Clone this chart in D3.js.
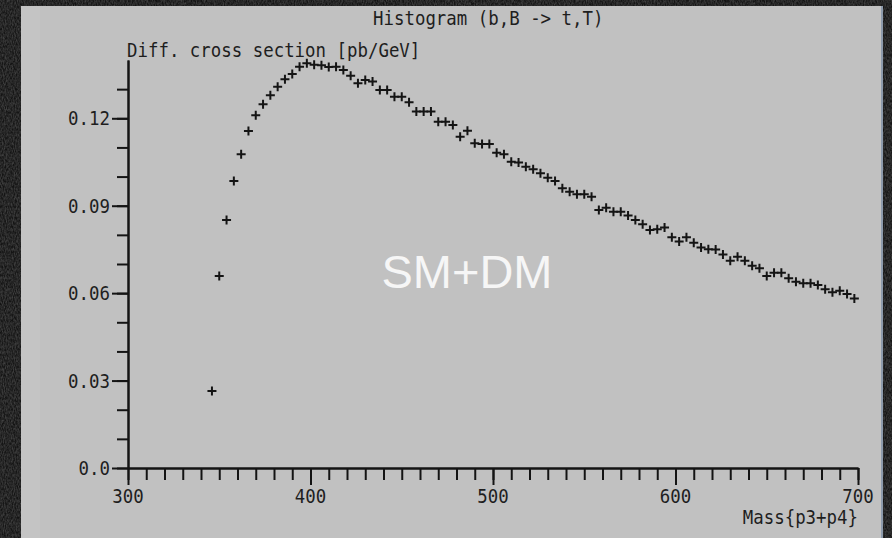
<!DOCTYPE html>
<html>
<head>
<meta charset="utf-8">
<script src="https://cdn.jsdelivr.net/npm/d3@7"></script>
<style>
  html, body { margin: 0; padding: 0; background: #141414; }
  svg { display: block; }
</style>
</head>
<body>
<div class="svg-div"></div>
<script>
// histogram bin centres (GeV) and values (pb/GeV)
var massBins = d3.range(346, 699, 4);
var crossSection = [
	0.0264, 0.0659, 0.0851, 0.0985, 0.1077, 0.1156, 0.1210, 0.1248, 0.1279, 0.1308,
	0.1334, 0.1352, 0.1377, 0.1389, 0.1384, 0.1382, 0.1376, 0.1377, 0.1366, 0.1346,
	0.1320, 0.1331, 0.1326, 0.1297, 0.1297, 0.1274, 0.1274, 0.1255, 0.1223, 0.1223,
	0.1223, 0.1188, 0.1188, 0.1177, 0.1137, 0.1157, 0.1114, 0.1112, 0.1112, 0.1082,
	0.1077, 0.1051, 0.1048, 0.1034, 0.1025, 0.1011, 0.0996, 0.0985, 0.0960, 0.0948,
	0.0939, 0.0939, 0.0931, 0.0885, 0.0893, 0.0879, 0.0879, 0.0866, 0.0851, 0.0836,
	0.0817, 0.0819, 0.0825, 0.0792, 0.0777, 0.0792, 0.0773, 0.0757, 0.0751, 0.0750,
	0.0733, 0.0711, 0.0725, 0.0711, 0.0694, 0.0685, 0.0659, 0.0670, 0.0670, 0.0651,
	0.0639, 0.0634, 0.0634, 0.0628, 0.0613, 0.0603, 0.0608, 0.0597, 0.0582
];

// tick values and labels
var xMajorTicks = [300, 400, 500, 600, 700];
var xTickLabels = ["300", "400", "500", "600", "700"];
var xMinorTicks = d3.range(300, 701, 10);
var yMajorTicks = [0, 0.03, 0.06, 0.09, 0.12];
var yTickLabels = ["0.0", "0.03", "0.06", "0.09", "0.12"];
var yMinorTicks = d3.range(0, 0.135, 0.01);

var titleText = "Histogram (b,B -> t,T)";
var yTitle = "Diff. cross section [pb/GeV]";
var xTitle = "Mass{p3+p4}";
var overlayText = "SM+DM";

// size of the picture
var w = 892;
var h = 538;
var mono = "'DejaVu Sans Mono', 'Liberation Mono', monospace";
var ink = "#141414";

var svg = d3.select(".svg-div")
	.append("svg")
	.attr("width", w)
	.attr("height", h);

// dark grainy backdrop
var defs = svg.append("defs");
var noise = defs.append("filter").attr("id", "grain")
	.attr("x", 0).attr("y", 0).attr("width", 1).attr("height", 1);
noise.append("feTurbulence")
	.attr("type", "fractalNoise")
	.attr("baseFrequency", "0.9 0.35")
	.attr("numOctaves", 3)
	.attr("seed", 7);
noise.append("feColorMatrix")
	.attr("type", "matrix")
	.attr("values", "0 0 0 0 0.3  0 0 0 0 0.3  0 0 0 0 0.3  0.6 0 0 0 -0.15");

svg.append("rect").attr("width", w).attr("height", h).attr("fill", "#141414");
svg.append("rect").attr("width", w).attr("height", h).attr("filter", "url(#grain)");

// grey window
svg.append("rect")
	.attr("x", 21).attr("y", 6)
	.attr("width", 861).attr("height", h - 6)
	.attr("fill", "#c1c1c1");
svg.append("rect")
	.attr("x", 21).attr("y", 6)
	.attr("width", 19).attr("height", h - 6)
	.attr("fill", "#c4c4c4");
svg.append("rect")
	.attr("x", 881).attr("y", 6)
	.attr("width", 2).attr("height", h - 6)
	.attr("fill", "#8d9aab");

// scales
var x = d3.scaleLinear().domain([300, 700]).range([128, 858]);
var y = d3.scaleLinear().domain([0, 0.14]).range([468, 60]);

// helper for the tall narrow pixel font
function label(txt, px, py, anchor) {
	return svg.append("text")
		.attr("transform", "translate(" + px + "," + py + ") scale(1,1.15)")
		.attr("text-anchor", anchor)
		.attr("font-family", mono)
		.attr("font-size", "17.4px")
		.attr("fill", "#1e1e1e")
		.text(txt);
}

// x axis: minor then major ticks
var xMinor = d3.axisBottom(x).tickValues(xMinorTicks).tickSize(12).tickSizeOuter(0).tickFormat("");
var xMajor = d3.axisBottom(x).tickValues(xMajorTicks).tickSize(17).tickSizeOuter(0).tickFormat("");
svg.append("g").attr("transform", "translate(0," + y(0) + ")").call(xMinor);
svg.append("g").attr("transform", "translate(0," + y(0) + ")").call(xMajor);

// y axis
var yMinor = d3.axisLeft(y).tickValues(yMinorTicks).tickSize(11).tickSizeOuter(0).tickFormat("");
var yMajor = d3.axisLeft(y).tickValues(yMajorTicks).tickSize(16).tickSizeOuter(0).tickFormat("");
svg.append("g").attr("transform", "translate(" + x(300) + ",0)").call(yMinor);
svg.append("g").attr("transform", "translate(" + x(300) + ",0)").call(yMajor);

svg.selectAll(".domain, .tick line")
	.attr("stroke", ink)
	.attr("stroke-width", 2);

// tick labels
xMajorTicks.forEach(function(d, i) {
	label(xTickLabels[i], x(d), 503, "middle");
});
yMajorTicks.forEach(function(d, i) {
	label(yTickLabels[i], 110, y(d) + 7, "end");
});

// titles
label(titleText, 373, 25, "start");
label(yTitle, 127, 57, "start");
label(xTitle, 858, 524, "end");

// crosses for each bin
svg.append("g")
	.selectAll("path")
	.data(crossSection)
	.enter()
	.append("path")
	.attr("transform", function(d, i) {
		return "translate(" + x(massBins[i]) + "," + y(d) + ")";
	})
	.attr("d", "M-4.5,0H4.5M0,-4.5V4.5")
	.attr("stroke", ink)
	.attr("stroke-width", 2)
	.attr("fill", "none");

// white overlay text
svg.append("text")
	.attr("x", 467)
	.attr("y", 288)
	.attr("text-anchor", "middle")
	.attr("font-family", "'Liberation Sans', Arial, sans-serif")
	.attr("font-size", "47px")
	.attr("fill", "#f6f6f6")
	.text(overlayText);
</script>
</body>
</html>
